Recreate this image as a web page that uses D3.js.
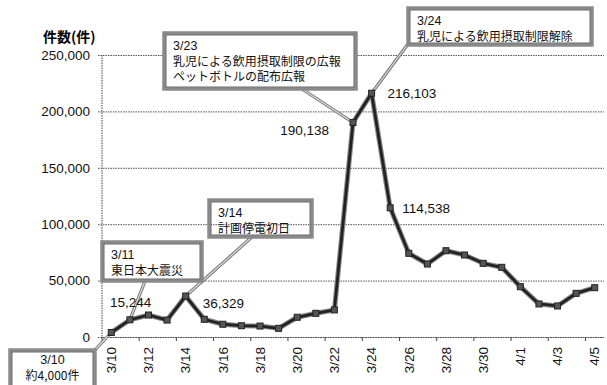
<!DOCTYPE html>
<html>
<head>
<meta charset="utf-8">
<script src="https://cdn.jsdelivr.net/npm/d3@7"></script>
<style>
  body { margin: 0; background: #fff; }
  svg { display: block; }
  .num { font-family: "Liberation Sans", Arial, sans-serif; font-size: 13.5px; fill: #111; }
  .jp { font-family: "Noto Sans CJK JP", sans-serif; font-size: 12px; fill: #111; }
  .date { font-family: "Liberation Sans", Arial, sans-serif; font-size: 12.5px; fill: #111; }
</style>
</head>
<body>
<svg width="607" height="385"></svg>
<script>
// data
const dates = ['3/10', '3/11', '3/12', '3/13', '3/14', '3/15', '3/16', '3/17', '3/18', '3/19',
  '3/20', '3/21', '3/22', '3/23', '3/24', '3/25', '3/26', '3/27', '3/28', '3/29', '3/30',
  '3/31', '4/1', '4/2', '4/3', '4/4', '4/5'];
const counts = [4000, 15244, 19500, 15000, 36329, 15700, 11300, 10000, 9700, 7700, 17500,
  21000, 24000, 190138, 216103, 114538, 74200, 64700, 76500, 72700, 65300, 61800, 44600,
  29300, 27500, 38700, 43700];
const yTicks = [0, 50000, 100000, 150000, 200000, 250000];
const labelledDates = ['3/11', '3/14', '3/23', '3/24', '3/25'];
const noteDates = ['3/10', '3/11', '3/14', '3/23', '3/24'];
const noteLines = [
  ['3/10', '約4,000件'],
  ['3/11', '東日本大震災'],
  ['3/14', '計画停電初日'],
  ['3/23', '乳児による飲用摂取制限の広報', 'ペットボトルの配布広報'],
  ['3/24', '乳児による飲用摂取制限解除']
];

const svg = d3.select('svg');
const plot = { left: 102, right: 604, top: 55, bottom: 337 };

const x = d3.scaleBand().domain(dates).range([plot.left, plot.right]).padding(0);
const y = d3.scaleLinear().domain([0, 250000]).range([plot.bottom, plot.top]);
const cx = (d) => x(d) + x.bandwidth() / 2;
const fmt = d3.format(',');

// gridlines + y axis
const yAxis = svg.append('g')
  .attr('transform', `translate(${plot.left},0)`)
  .call(d3.axisLeft(y).tickValues(yTicks).tickFormat(fmt).tickSize(-(plot.right - plot.left)).tickPadding(12));
yAxis.select('.domain').remove();
yAxis.selectAll('.tick line')
  .attr('x1', -4)
  .attr('stroke', '#555')
  .attr('stroke-dasharray', '1.5,1');
yAxis.selectAll('.tick text').attr('class', 'num').attr('font-size', null).attr('font-family', null);

svg.append('line')
  .attr('x1', plot.left).attr('x2', plot.left)
  .attr('y1', plot.top).attr('y2', plot.bottom)
  .attr('stroke', '#666').attr('stroke-width', 1.2)
  .attr('stroke-dasharray', '1.5,1');

// x axis
const xAxis = svg.append('g')
  .attr('transform', `translate(0,${plot.bottom})`)
  .call(d3.axisBottom(x).tickSize(0).tickPadding(10));
xAxis.select('.domain')
  .attr('stroke', '#555')
  .attr('stroke-dasharray', '1.5,1');
xAxis.selectAll('.tick text')
  .attr('class', 'num').attr('font-size', null).attr('font-family', null)
  .style('display', (d, i) => (i % 2 === 0 ? null : 'none'))
  .attr('transform', 'rotate(-90)')
  .attr('x', -10).attr('y', 0).attr('dy', '0.35em')
  .attr('text-anchor', 'end');

svg.append('g').selectAll('line')
  .data(dates.filter((d, i) => i % 2 === 0))
  .join('line')
  .attr('x1', (d) => x(d)).attr('x2', (d) => x(d))
  .attr('y1', plot.bottom).attr('y2', plot.bottom + 4)
  .attr('stroke', '#444');

// axis title
svg.append('text')
  .attr('x', 43).attr('y', 42)
  .attr('font-family', '"Noto Sans CJK JP", sans-serif')
  .attr('font-size', 14).attr('font-weight', 'bold')
  .text('件数(件)');

// callout boxes
const boxes = [
  { x: 10, y: 350, w: 85, h: 40, anchor: 'middle', fill: '#fff', from: [95, 350], first: 14, gap: 16 },
  { x: 102, y: 242, w: 100, h: 39, anchor: 'start', fill: '#fff', from: [145, 281], first: 17, gap: 15.5 },
  { x: 209, y: 200, w: 103, h: 37, anchor: 'start', fill: 'none', from: [252, 237], first: 17, gap: 15.5 },
  { x: 164, y: 33, w: 192, h: 56, anchor: 'start', fill: '#fff', from: [302, 89], first: 17, gap: 15.5 },
  { x: 408, y: 8, w: 184, h: 37, anchor: 'start', fill: '#fff', from: [408, 44], first: 17, gap: 15.5 }
];

noteDates.forEach((d, i) => {
  const b = boxes[i];
  const px = cx(d);
  const py = y(counts[dates.indexOf(d)]);
  svg.append('line')
    .attr('x1', b.from[0]).attr('y1', b.from[1]).attr('x2', px).attr('y2', py)
    .attr('stroke', '#777').attr('stroke-width', 3.2);
  svg.append('line')
    .attr('x1', b.from[0]).attr('y1', b.from[1]).attr('x2', px).attr('y2', py)
    .attr('stroke', '#ddd').attr('stroke-width', 1.2);
});

// series line + markers
const line = d3.line().x((d, i) => cx(dates[i])).y((d) => y(d));
svg.append('path')
  .datum(counts)
  .attr('fill', 'none')
  .attr('stroke', '#8a8a8a')
  .attr('stroke-width', 5)
  .attr('stroke-linejoin', 'round')
  .attr('d', line);
svg.append('path')
  .datum(counts)
  .attr('fill', 'none')
  .attr('stroke', '#222')
  .attr('stroke-width', 2.8)
  .attr('stroke-linejoin', 'round')
  .attr('d', line);
svg.append('g').selectAll('rect')
  .data(counts)
  .join('rect')
  .attr('x', (d, i) => cx(dates[i]) - 3)
  .attr('y', (d) => y(d) - 3)
  .attr('width', 6).attr('height', 6)
  .attr('fill', '#555').attr('stroke', '#222').attr('stroke-width', 1);

// box frames and text
noteDates.forEach((d, i) => {
  const b = boxes[i];
  const g = svg.append('g');
  g.append('rect')
    .attr('x', b.x).attr('y', b.y).attr('width', b.w).attr('height', b.h)
    .attr('fill', b.fill).attr('stroke', '#8a8a8a').attr('stroke-width', 3.5);
  g.append('rect')
    .attr('x', b.x + 2).attr('y', b.y + 2).attr('width', b.w - 4).attr('height', b.h - 4)
    .attr('fill', 'none').attr('stroke', '#444').attr('stroke-width', 0.8);
  const tx = b.anchor === 'middle' ? b.x + b.w / 2 : b.x + 9;
  g.selectAll('text')
    .data(noteLines[i])
    .join('text')
    .attr('class', (t, j) => (j === 0 ? 'date' : 'jp'))
    .attr('text-anchor', b.anchor)
    .attr('x', tx)
    .attr('y', (t, j) => b.y + b.first + j * b.gap)
    .text((t) => t);
});

// value labels
const labelPos = [
  { dx: -20, dy: -13, anchor: 'start' },
  { dx: 17, dy: 12, anchor: 'start' },
  { dx: -24, dy: 12, anchor: 'end' },
  { dx: 16, dy: 5, anchor: 'start' },
  { dx: 12, dy: 5, anchor: 'start' }
];
labelledDates.forEach((d, i) => {
  const v = counts[dates.indexOf(d)];
  const p = labelPos[i];
  svg.append('text')
    .attr('class', 'num')
    .attr('x', cx(d) + p.dx)
    .attr('y', y(v) + p.dy)
    .attr('text-anchor', p.anchor)
    .text(fmt(v));
});
</script>
</body>
</html>
